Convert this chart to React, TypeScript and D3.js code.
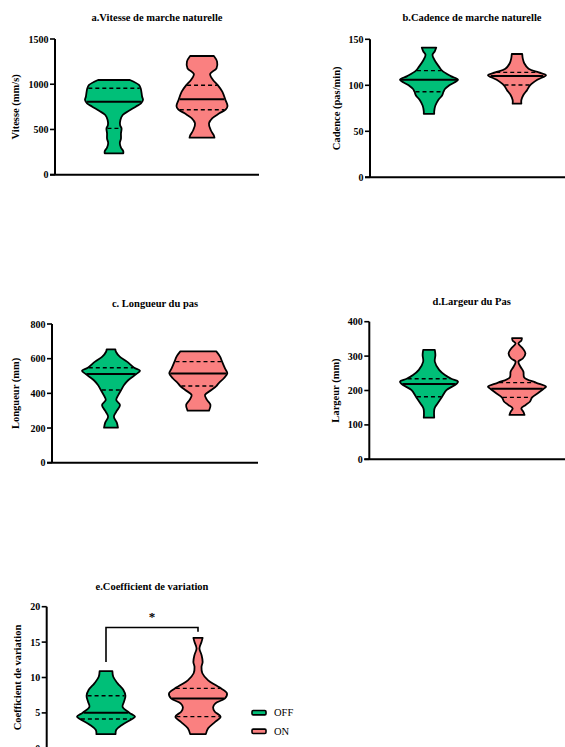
import React from "react";
import * as d3 from "d3";

const GROUPS = ["OFF", "ON"];
const COLORS = ["#00BF78", "#FA8080"];

// Panel a – Vitesse
const aTicks = [0, 500, 1000, 1500];
const aOffValues = [1047, 992, 955, 862, 826, 789, 752, 704, 660, 604, 549, 512, 457, 400, 350, 300, 260, 236];
const aOffDensity = [0.55, 0.86, 0.92, 0.97, 1.0, 0.93, 0.75, 0.5, 0.3, 0.22, 0.21, 0.26, 0.24, 0.24, 0.2, 0.24, 0.32, 0.32];
const aOffQuart = [512, 807, 955];
const aOnValues = [1312, 1250, 1176, 1113, 1047, 988, 918, 833, 760, 722, 678, 623, 568, 494, 439, 409];
const aOnDensity = [0.41, 0.52, 0.5, 0.28, 0.38, 0.55, 0.7, 0.8, 0.88, 0.82, 0.6, 0.35, 0.24, 0.3, 0.4, 0.43];
const aOnQuart = [718, 833, 988];

// Panel b – Cadence
const bTicks = [0, 50, 100, 150];
const bOffValues = [141, 137, 133, 127, 120, 116, 110, 106, 100, 96, 93, 89, 84, 78, 72, 69];
const bOffDensity = [0.25, 0.2, 0.12, 0.2, 0.35, 0.45, 0.75, 1.0, 0.7, 0.55, 0.5, 0.45, 0.32, 0.22, 0.18, 0.18];
const bOffQuart = [93, 106, 116];
const bOnValues = [134, 129, 124, 118, 114, 111, 106, 100, 95, 89.5, 84, 80];
const bOnDensity = [0.18, 0.2, 0.25, 0.4, 0.75, 1.0, 0.7, 0.45, 0.35, 0.22, 0.15, 0.15];
const bOnQuart = [100.4, 110, 114];

// Panel c – Longueur
const cTicks = [0, 200, 400, 600, 800];
const cOffValues = [654, 640, 612, 583, 548, 531, 512, 477, 448, 419, 390, 362, 333, 294, 265, 231, 202];
const cOffDensity = [0.15, 0.17, 0.3, 0.55, 0.8, 1.0, 0.88, 0.6, 0.45, 0.35, 0.25, 0.18, 0.31, 0.18, 0.1, 0.2, 0.24];
const cOffQuart = [419, 512, 548];
const cOnValues = [642, 612, 583, 544, 515, 487, 458, 442, 419, 390, 362, 333, 300];
const cOnDensity = [0.62, 0.75, 0.82, 0.92, 1.0, 0.88, 0.7, 0.62, 0.45, 0.23, 0.3, 0.42, 0.37];
const cOnQuart = [442, 515, 583];

// Panel d – Largeur
const dTicks = [0, 100, 200, 300, 400];
const dOffValues = [318, 303, 284, 260, 245, 234, 226, 219, 201, 182, 163, 148, 121];
const dOffDensity = [0.2, 0.22, 0.2, 0.35, 0.55, 0.77, 1.0, 0.95, 0.6, 0.45, 0.3, 0.19, 0.18];
const dOffQuart = [182, 219, 234];
const dOnValues = [352, 345, 337, 322, 308, 293, 284, 269, 255, 238, 223, 211, 205, 194, 180, 168, 158, 148, 138, 129];
const dOnDensity = [0.17, 0.15, 0.05, 0.2, 0.29, 0.2, 0.05, 0.12, 0.22, 0.25, 0.65, 1.0, 0.92, 0.75, 0.52, 0.45, 0.3, 0.15, 0.22, 0.26];
const dOnQuart = [180, 205, 223];

// Panel e – Coefficient de variation
const eTicks = [0, 5, 10, 15, 20];
const eOffValues = [10.9, 10.1, 9.17, 8.23, 7.43, 6.58, 5.88, 5.03, 4.47, 4.14, 3.29, 2.59, 2.0];
const eOffDensity = [0.22, 0.25, 0.4, 0.6, 0.67, 0.62, 0.57, 0.8, 1.0, 0.9, 0.55, 0.35, 0.33];
const eOffQuart = [4.14, 5.03, 7.43];
const eOnValues = [15.6, 15.0, 14.1, 13.2, 12.2, 11.5, 10.6, 9.6, 8.93, 8.46, 7.76, 7.05, 6.35, 5.78, 5.17, 4.47, 3.76, 2.82, 2.0];
const eOnDensity = [0.16, 0.12, 0.05, 0.12, 0.16, 0.12, 0.15, 0.35, 0.6, 0.8, 1.0, 0.93, 0.6, 0.52, 0.58, 0.78, 0.6, 0.35, 0.27];
const eOnQuart = [4.47, 7.05, 8.46];
const eSignif = { from: "OFF", to: "ON", level: 17.07, leftDrop: 12.2, rightDrop: 16.45, label: "*" };

const FONT = "'Liberation Serif', 'Times New Roman', serif";
const MAX_HALF = 29;

type Violin = { values: number[]; density: number[]; quart: number[] };

type PanelProps = {
  title: string;
  yLabel: string;
  ticks: number[];
  violins: Violin[];
  axisX: number;
  axisEnd: number;
  yTop: number;
  yBottom: number;
  centers: [number, number];
  titleX: number;
  titleY: number;
  yLabelX: number;
  children?: (x: d3.ScalePoint<string>, y: d3.ScaleLinear<number, number>) => React.ReactNode;
};

function halfAt(v: Violin, q: number): number {
  const pts = v.values.map((val, i) => [val, v.density[i]]).sort((a, b) => a[0] - b[0]);
  for (let i = 0; i < pts.length - 1; i++) {
    if (q >= pts[i][0] && q <= pts[i + 1][0]) {
      const t = (q - pts[i][0]) / (pts[i + 1][0] - pts[i][0]);
      return pts[i][1] + t * (pts[i + 1][1] - pts[i][1]);
    }
  }
  return 0;
}

function Panel(p: PanelProps) {
  const y = d3.scaleLinear().domain([0, p.ticks[p.ticks.length - 1]]).range([p.yBottom, p.yTop]);
  const x = d3.scalePoint<string>().domain(GROUPS).range(p.centers);
  const w = d3.scaleLinear().domain([0, 1]).range([0, MAX_HALF]);
  return (
    <g>
      <text x={p.titleX} y={p.titleY} textAnchor="middle" fontFamily={FONT} fontWeight="bold" fontSize={10.5}>
        {p.title}
      </text>
      <text
        transform={`translate(${p.yLabelX},${(p.yTop + p.yBottom) / 2}) rotate(-90)`}
        textAnchor="middle"
        dominantBaseline="middle"
        fontFamily={FONT}
        fontWeight="bold"
        fontSize={10.5}
      >
        {p.yLabel}
      </text>
      {p.violins.map((v, i) => {
        const cx = x(GROUPS[i]) as number;
        const pts = v.values.map((val, k) => ({ val, d: v.density[k] }));
        const area = d3
          .area<{ val: number; d: number }>()
          .y((d) => y(d.val))
          .x0((d) => cx - w(d.d))
          .x1((d) => cx + w(d.d))
          .curve(d3.curveCatmullRom.alpha(0.5));
        return (
          <g key={i}>
            <path d={area(pts) || ""} fill={COLORS[i]} stroke="#000" strokeWidth={1.8} strokeLinejoin="round" />
            {v.quart.map((q, k) => {
              const hw = w(halfAt(v, q)) - 1;
              return (
                <line
                  key={k}
                  x1={cx - hw}
                  x2={cx + hw}
                  y1={y(q)}
                  y2={y(q)}
                  stroke="#000"
                  strokeWidth={k === 1 ? 2 : 1.4}
                  strokeDasharray={k === 1 ? undefined : "4,3"}
                />
              );
            })}
          </g>
        );
      })}
      <line x1={p.axisX} x2={p.axisX} y1={p.yTop} y2={p.yBottom} stroke="#000" strokeWidth={2} />
      <line x1={p.axisX - 5} x2={p.axisEnd} y1={p.yBottom} y2={p.yBottom} stroke="#000" strokeWidth={2} />
      {p.ticks.map((t) => (
        <g key={t}>
          <line x1={p.axisX - 5} x2={p.axisX} y1={y(t)} y2={y(t)} stroke="#000" strokeWidth={1.6} />
          <text
            x={p.axisX - 6.5}
            y={y(t)}
            textAnchor="end"
            dominantBaseline="central"
            fontFamily={FONT}
            fontWeight="bold"
            fontSize={10}
          >
            {t}
          </text>
        </g>
      ))}
      {p.children ? p.children(x, y) : null}
    </g>
  );
}

export default function App() {
  return (
    <svg width={565} height={747} style={{ position: "absolute", left: 0, top: 0, background: "#fff" }}>
      <rect width={565} height={747} fill="#fff" />
      <Panel
        title="a.Vitesse de marche naturelle"
        yLabel="Vitesse (mm/s)"
        ticks={aTicks}
        violins={[
          { values: aOffValues, density: aOffDensity, quart: aOffQuart },
          { values: aOnValues, density: aOnDensity, quart: aOnQuart },
        ]}
        axisX={55}
        axisEnd={259}
        yTop={39}
        yBottom={174.7}
        centers={[114, 202]}
        titleX={157}
        titleY={21}
        yLabelX={17}
      />
      <Panel
        title="b.Cadence de marche naturelle"
        yLabel="Cadence (pas/min)"
        ticks={bTicks}
        violins={[
          { values: bOffValues, density: bOffDensity, quart: bOffQuart },
          { values: bOnValues, density: bOnDensity, quart: bOnQuart },
        ]}
        axisX={370}
        axisEnd={574}
        yTop={39.3}
        yBottom={177.3}
        centers={[429, 517]}
        titleX={472}
        titleY={21}
        yLabelX={338}
      />
      <Panel
        title="c. Longueur du pas"
        yLabel="Longueur (mm)"
        ticks={cTicks}
        violins={[
          { values: cOffValues, density: cOffDensity, quart: cOffQuart },
          { values: cOnValues, density: cOnDensity, quart: cOnQuart },
        ]}
        axisX={52}
        axisEnd={258}
        yTop={324}
        yBottom={462.7}
        centers={[111, 198.3]}
        titleX={155}
        titleY={307}
        yLabelX={17}
      />
      <Panel
        title="d.Largeur du Pas"
        yLabel="Largeur (mm)"
        ticks={dTicks}
        violins={[
          { values: dOffValues, density: dOffDensity, quart: dOffQuart },
          { values: dOnValues, density: dOnDensity, quart: dOnQuart },
        ]}
        axisX={369.3}
        axisEnd={574}
        yTop={321.7}
        yBottom={459.3}
        centers={[429, 517]}
        titleX={471.7}
        titleY={305}
        yLabelX={337}
      />
      <Panel
        title="e.Coefficient de variation"
        yLabel="Coefficient de variation"
        ticks={eTicks}
        violins={[
          { values: eOffValues, density: eOffDensity, quart: eOffQuart },
          { values: eOnValues, density: eOnDensity, quart: eOnQuart },
        ]}
        axisX={46.7}
        axisEnd={251}
        yTop={606.7}
        yBottom={748.3}
        centers={[106, 198]}
        titleX={152}
        titleY={590}
        yLabelX={18.3}
      >
        {(x, y) => {
          const x1 = x(eSignif.from) as number;
          const x2 = x(eSignif.to) as number;
          return (
            <g>
              <path
                d={`M${x1},${y(eSignif.leftDrop)}V${y(eSignif.level)}H${x2}V${y(eSignif.rightDrop)}`}
                fill="none"
                stroke="#000"
                strokeWidth={1.6}
              />
              <text
                x={(x1 + x2) / 2}
                y={y(eSignif.level) - 6}
                textAnchor="middle"
                fontFamily={FONT}
                fontWeight="bold"
                fontSize={13}
                fill="#000"
              >
                {eSignif.label}
              </text>
            </g>
          );
        }}
      </Panel>
      {GROUPS.map((g, i) => (
        <g key={g} transform={`translate(252,${712.7 + i * 18.6})`}>
          <rect x={0} y={-2.2} width={14} height={4.4} rx={1.2} fill={COLORS[i]} stroke="#000" strokeWidth={1.6} />
          <text x={22} y={0} dominantBaseline="central" fontFamily={FONT} fontSize={10.5}>
            {g}
          </text>
        </g>
      ))}
    </svg>
  );
}
